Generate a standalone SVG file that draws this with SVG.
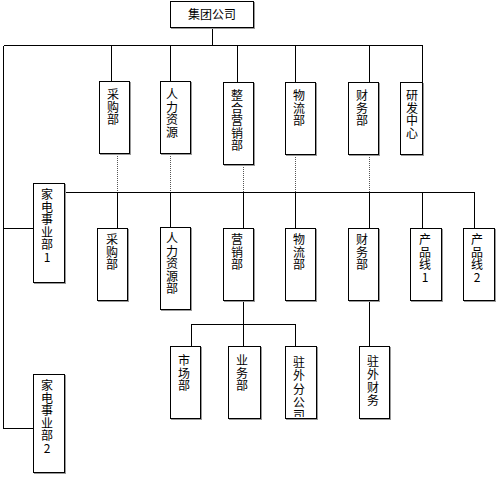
<svg xmlns="http://www.w3.org/2000/svg" width="500" height="477" viewBox="0 0 500 477">
<style>
.box{fill:#fff;stroke:#000;stroke-width:1}
.sh{fill:#999}
.t{font-family:"Noto Sans CJK SC","Liberation Sans",sans-serif;font-size:12px;fill:#000;text-anchor:middle}
.c{stroke:#000;stroke-width:1;fill:none}
.d{stroke:#555;stroke-width:1;stroke-dasharray:1 1;fill:none}
</style>
<defs>
<clipPath id="clipZW"><rect x="285" y="346" width="32" height="71"/></clipPath>
</defs>
<rect width="500" height="477" fill="#fff"/>
<g id="connectors" shape-rendering="crispEdges">
<path class="c" d="M212.5 28V45.5M3.5 45.5H422.5M111.5 45.5V81M170.5 45.5V81M237.5 45.5V82M295.5 45.5V82M369.5 45.5V82M422.5 45.5V82"/>
<path class="c" d="M3.5 45.5V428.5H33M3.5 228.5H33"/>
<path class="d" d="M117.5 154V192M170.5 154V192M243.5 165V192M295.5 155V192M369.5 155V192"/>
<path class="c" d="M65 192.5H474.5M117.5 192.5V228M170.5 192.5V227M243.5 192.5V228M295.5 192.5V228M369.5 192.5V228M422.5 192.5V228M474.5 192.5V228"/>
<path class="c" d="M243.5 301V346M191.5 346V324.5H295.5V346M369.5 301V346"/>
</g>
<g id="n-group">
<rect class="sh" x="171" y="2" width="84" height="27"/><rect class="box" x="170.5" y="1.5" width="83" height="26"/>
<text class="t" x="212" y="19">集团公司</text>
</g>
<g id="n-cg1">
<rect class="sh" x="100" y="82" width="31" height="73"/><rect class="box" x="99.5" y="81.5" width="30" height="72"/>
<text class="t" x="113" y="99"><tspan x="113">采</tspan><tspan x="113" dy="12.5">购</tspan><tspan x="113" dy="12.5">部</tspan></text>
</g>
<g id="n-hr1">
<rect class="sh" x="161" y="82" width="31" height="73"/><rect class="box" x="160.5" y="81.5" width="30" height="72"/>
<text class="t" x="172" y="99"><tspan x="172">人</tspan><tspan x="172" dy="12.5">力</tspan><tspan x="172" dy="12.5">资</tspan><tspan x="172" dy="12.5">源</tspan></text>
</g>
<g id="n-mk1">
<rect class="sh" x="224" y="83" width="31" height="83"/><rect class="box" x="223.5" y="82.5" width="30" height="82"/>
<text class="t" x="237" y="100"><tspan x="237">整</tspan><tspan x="237" dy="12.5">合</tspan><tspan x="237" dy="12.5">营</tspan><tspan x="237" dy="12.5">销</tspan><tspan x="237" dy="12.5">部</tspan></text>
</g>
<g id="n-lg1">
<rect class="sh" x="286" y="83" width="31" height="73"/><rect class="box" x="285.5" y="82.5" width="30" height="72"/>
<text class="t" x="299" y="100"><tspan x="299">物</tspan><tspan x="299" dy="12.5">流</tspan><tspan x="299" dy="12.5">部</tspan></text>
</g>
<g id="n-fi1">
<rect class="sh" x="349" y="83" width="31" height="73"/><rect class="box" x="348.5" y="82.5" width="30" height="72"/>
<text class="t" x="362" y="100"><tspan x="362">财</tspan><tspan x="362" dy="12.5">务</tspan><tspan x="362" dy="12.5">部</tspan></text>
</g>
<g id="n-rd">
<rect class="sh" x="401" y="83" width="23" height="73"/><rect class="box" x="400.5" y="82.5" width="22" height="72"/>
<text class="t" x="412" y="100"><tspan x="412">研</tspan><tspan x="412" dy="12.5">发</tspan><tspan x="412" dy="12.5">中</tspan><tspan x="412" dy="12.5">心</tspan></text>
</g>
<g id="n-jd1">
<rect class="sh" x="34" y="184" width="32" height="100"/><rect class="box" x="33.5" y="183.5" width="31" height="99"/>
<text class="t" x="47" y="199"><tspan x="47">家</tspan><tspan x="47" dy="12.5">电</tspan><tspan x="47" dy="12.5">事</tspan><tspan x="47" dy="12.5">业</tspan><tspan x="47" dy="12.5">部</tspan><tspan x="47" dy="12.5">1</tspan></text>
</g>
<g id="n-cg2">
<rect class="sh" x="98" y="229" width="31" height="73"/><rect class="box" x="97.5" y="228.5" width="30" height="72"/>
<text class="t" x="112" y="244"><tspan x="112">采</tspan><tspan x="112" dy="12.5">购</tspan><tspan x="112" dy="12.5">部</tspan></text>
</g>
<g id="n-hr2">
<rect class="sh" x="161" y="228" width="31" height="83"/><rect class="box" x="160.5" y="227.5" width="30" height="82"/>
<text class="t" x="172" y="243"><tspan x="172">人</tspan><tspan x="172" dy="12.5">力</tspan><tspan x="172" dy="12.5">资</tspan><tspan x="172" dy="12.5">源</tspan><tspan x="172" dy="12.5">部</tspan></text>
</g>
<g id="n-mk2">
<rect class="sh" x="224" y="229" width="31" height="73"/><rect class="box" x="223.5" y="228.5" width="30" height="72"/>
<text class="t" x="237" y="244"><tspan x="237">营</tspan><tspan x="237" dy="12.5">销</tspan><tspan x="237" dy="12.5">部</tspan></text>
</g>
<g id="n-lg2">
<rect class="sh" x="286" y="229" width="31" height="73"/><rect class="box" x="285.5" y="228.5" width="30" height="72"/>
<text class="t" x="299" y="244"><tspan x="299">物</tspan><tspan x="299" dy="12.5">流</tspan><tspan x="299" dy="12.5">部</tspan></text>
</g>
<g id="n-fi2">
<rect class="sh" x="349" y="229" width="31" height="73"/><rect class="box" x="348.5" y="228.5" width="30" height="72"/>
<text class="t" x="362" y="244"><tspan x="362">财</tspan><tspan x="362" dy="12.5">务</tspan><tspan x="362" dy="12.5">部</tspan></text>
</g>
<g id="n-pl1">
<rect class="sh" x="411" y="229" width="32" height="73"/><rect class="box" x="410.5" y="228.5" width="31" height="72"/>
<text class="t" x="425" y="244"><tspan x="425">产</tspan><tspan x="425" dy="12.5">品</tspan><tspan x="425" dy="12.5">线</tspan><tspan x="425" dy="12.5">1</tspan></text>
</g>
<g id="n-pl2">
<rect class="sh" x="464" y="229" width="32" height="73"/><rect class="box" x="463.5" y="228.5" width="31" height="72"/>
<text class="t" x="477" y="244"><tspan x="477">产</tspan><tspan x="477" dy="12.5">品</tspan><tspan x="477" dy="12.5">线</tspan><tspan x="477" dy="12.5">2</tspan></text>
</g>
<g id="n-sc">
<rect class="sh" x="171" y="347" width="31" height="73"/><rect class="box" x="170.5" y="346.5" width="30" height="72"/>
<text class="t" x="184" y="365"><tspan x="184">市</tspan><tspan x="184" dy="12.5">场</tspan><tspan x="184" dy="12.5">部</tspan></text>
</g>
<g id="n-yw">
<rect class="sh" x="229" y="347" width="33" height="73"/><rect class="box" x="228.5" y="346.5" width="32" height="72"/>
<text class="t" x="242" y="365"><tspan x="242">业</tspan><tspan x="242" dy="12.5">务</tspan><tspan x="242" dy="12.5">部</tspan></text>
</g>
<g id="n-zwfgs">
<rect class="sh" x="286" y="347" width="32" height="73"/><rect class="box" x="285.5" y="346.5" width="31" height="72"/>
<text class="t" x="299" y="367" clip-path="url(#clipZW)"><tspan x="299">驻</tspan><tspan x="299" dy="13.3">外</tspan><tspan x="299" dy="13.3">分</tspan><tspan x="299" dy="13.3">公</tspan><tspan x="299" dy="13.3">司</tspan></text>
</g>
<g id="n-zwcw">
<rect class="sh" x="360" y="347" width="31" height="73"/><rect class="box" x="359.5" y="346.5" width="30" height="72"/>
<text class="t" x="373" y="366"><tspan x="373">驻</tspan><tspan x="373" dy="13">外</tspan><tspan x="373" dy="13">财</tspan><tspan x="373" dy="13">务</tspan></text>
</g>
<g id="n-jd2">
<rect class="sh" x="34" y="375" width="32" height="99"/><rect class="box" x="33.5" y="374.5" width="31" height="98"/>
<text class="t" x="47" y="390"><tspan x="47">家</tspan><tspan x="47" dy="12.5">电</tspan><tspan x="47" dy="12.5">事</tspan><tspan x="47" dy="12.5">业</tspan><tspan x="47" dy="12.5">部</tspan><tspan x="47" dy="12.5">2</tspan></text>
</g>
</svg>
